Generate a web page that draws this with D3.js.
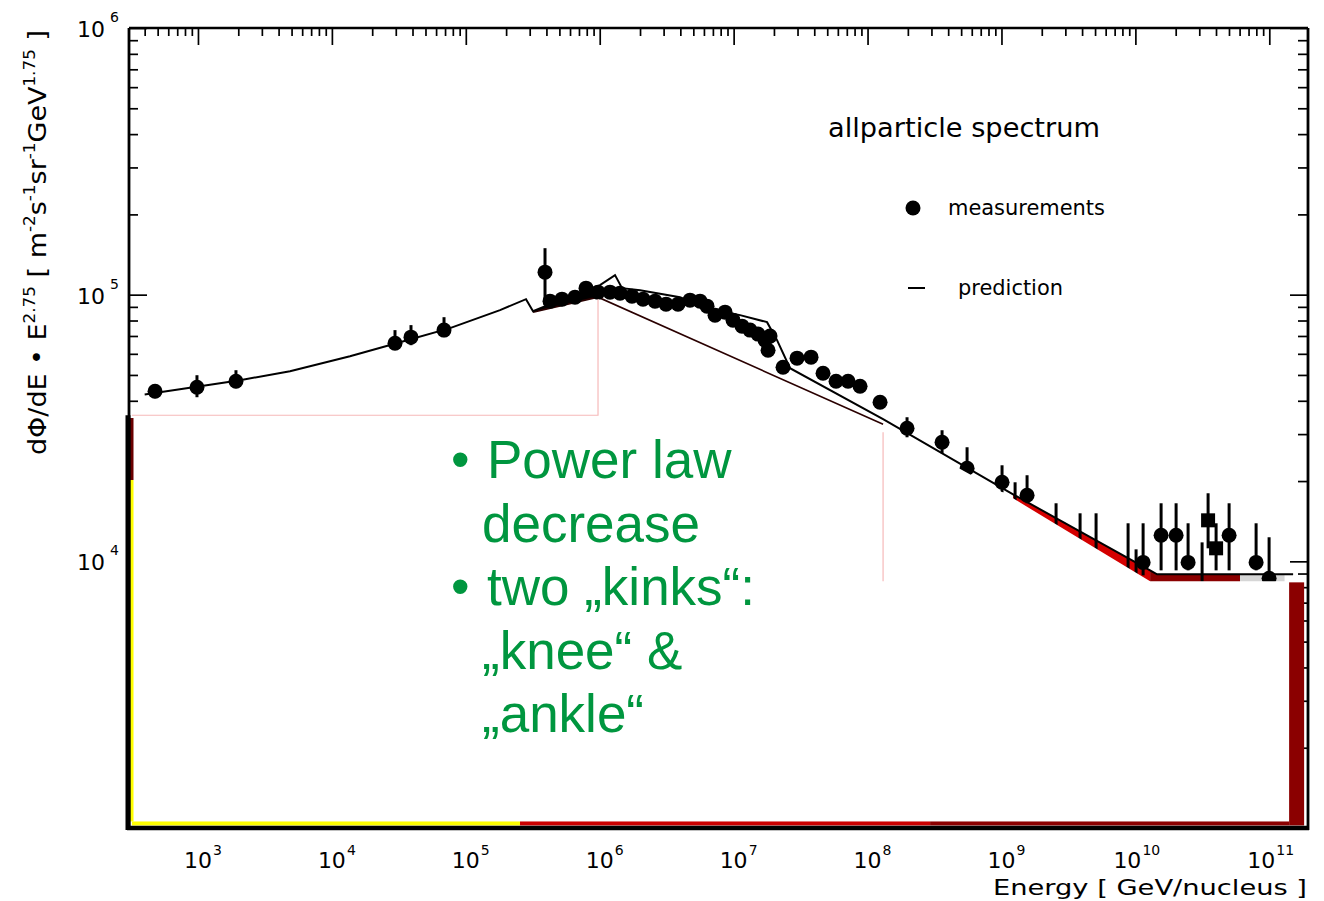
<!DOCTYPE html>
<html><head><meta charset="utf-8">
<script src="https://cdn.jsdelivr.net/npm/d3@7"></script>
<style>html,body{margin:0;padding:0;background:#fff;} svg{display:block;}</style>
</head><body>
<svg id="c" width="1324" height="901"></svg>
<script>
// ---------- DATA ----------
// measurements: energy [GeV/nucleus], flux*E^2.75, error bar top, error bar bottom
const measE = [478, 983, 1922, 29600, 38970, 68760, 390400,
  425500, 522800, 654000, 790300, 971200, 1.194e6, 1.418e6, 1.742e6, 2.106e6, 2.588e6,
  3.128e6, 3.844e6, 4.725e6, 5.612e6, 6.33e6, 7.263e6, 8.628e6, 9.897e6, 1.156e7, 1.326e7,
  1.521e7, 1.716e7, 1.87e7, 1.807e7, 2.338e7, 2.975e7, 3.785e7, 4.652e7, 5.818e7, 7.152e7,
  8.79e7, 1.24e8,
  1.972e8, 3.601e8, 5.536e8, 1.01e9, 1.553e9, 1.264e9, 2.557e9, 3.864e9, 5.087e9, 8.821e9,
  1.012e10, 1.142e10, 1.556e10, 2.014e10, 2.475e10, 3.149e10, 3.491e10, 4.006e10, 5.01e10,
  7.97e10, 9.965e10];
const measFlux = [43450, 44980, 47370, 65770, 69300, 73630, 121450,
  94540, 96190, 97860, 105780, 102190, 102190, 101300, 98720, 96190, 94540,
  92130, 92130, 95360, 94540, 90550, 83800, 85990, 80260, 76210, 73630,
  71130, 67530, 69910, 61910, 53460, 57790, 58290, 50760, 47370, 47370,
  45370, 39510,
  31560, 27950, 22340, 19790, 17690, 14880, 11990, 10810, 9660, 7920,
  7650, 9910, 12520, 12520, 9910, 7140, 14250, 11190, 12520,
  9910, 8640];
const measHi = [46150, 49880, 52090, 73630, 76880, 82330, 149400,
  94540, 96190, 97860, 105780, 102190, 102190, 101300, 98720, 96190, 94540,
  92130, 92130, 95360, 94540, 90550, 83800, 85990, 80260, 76210, 73630,
  71130, 67530, 69910, 61910, 53460, 57790, 58290, 50760, 47370, 47370,
  45370, 39510,
  34700, 31020, 26780, 22920, 21030, 19790, 16510, 15140, 15140, 13890,
  11090, 13890, 16510, 16510, 13890, 11780, 18000, 13890, 16510,
  13890, 12310];
const measLo = [40900, 41250, 44600, 62980, 64640, 69300, 91340,
  94540, 96190, 97860, 105780, 102190, 102190, 101300, 98720, 96190, 94540,
  92130, 92130, 95360, 94540, 90550, 83800, 85990, 80260, 76210, 73630,
  71130, 67530, 69910, 61910, 53460, 57790, 58290, 50760, 47370, 47370,
  45370, 39510,
  29190, 25430, 20670, 18150, 16510, 11480, 9250, 8490, 7455, 6550,
  6270, 8860, 9250, 9250, 9250, 5750, 11190, 9250, 9250,
  9250, 7140];
const squareMarkers = [3.491e10, 4.006e10]; // energies drawn as squares

// prediction curve
const predE = [400, 1035, 2059, 4866, 13650, 32260, 76210, 180100, 281600, 317700, 505200,
  712700, 1.005e6, 1.301e6, 1.468e6, 2.0e6, 3.978e6, 6.33e6, 1.116e7, 1.776e7, 2.109e7,
  2.637e7, 1.306e8, 1.221e9, 1.288e10, 1.452e10, 1.506e11];
const predFlux = [42200, 45370, 47780, 51640, 58790, 66330, 74880, 87480, 96190, 86730, 95360,
  101300, 108550, 118370, 105780, 103960, 97860, 88980, 83800, 78880, 67530,
  53000, 34110, 17840, 9250, 8940, 8940];

// broken power-law (knee) line
const kneeE = [317700, 971200, 1.306e8];
const kneeFlux = [85990, 97860, 32670];

// white overlay (slide text box) outline, in data coordinates
const maskE = [327, 971200, 971200, 1.306e8, 1.221e9, 1.288e10, 1.406e11, 1.406e11, 327];
const maskFlux = [35300, 35300, 96190, 32110, 17230, 8414, 8414, 1058, 1058];

// energy zones (colour bands)
const zoneEdges = [321, 2.54e5, 2.93e8, 1.406e11];
const zoneColors = ["#ffff00", "#cc0000", "#8b0000"];

// tick labels
const xTickExps = [3, 4, 5, 6, 7, 8, 9, 10, 11];
const yTickExps = [4, 5, 6];

const bullets = [
  {b: true, t: "Power law"},
  {b: false, t: "decrease"},
  {b: true, t: "two \u201Ekinks\u201C:"},
  {b: false, t: "\u201Eknee\u201C &"},
  {b: false, t: "\u201Eankle\u201C"}
];

// ---------- CHART ----------
const svg = d3.select("#c");
const x = d3.scaleLog().domain([Math.pow(10, 2.485), Math.pow(10, 11.289)]).range([129, 1308]);
const y = d3.scaleLog().domain([1e3, 1e6]).range([828, 28]);
const X0 = 129, X1 = 1308, Y0 = 28, Y1 = 828;
const FONT = "'DejaVu Sans', sans-serif";

svg.append("rect").attr("width", 1324).attr("height", 901).attr("fill", "#fff");

// tick values
const xMajor = xTickExps.map(e => Math.pow(10, e));
const xMinor = [];
for (let k = 2; k <= 11; k++) for (let m = 2; m <= 9; m++) {
  const v = m * Math.pow(10, k);
  if (v > x.domain()[0] && v < x.domain()[1]) xMinor.push(v);
}
const yMajor = [1e4, 1e5, 1e6];
const yMinor = [];
for (let k = 3; k <= 5; k++) for (let m = 2; m <= 9; m++) yMinor.push(m * Math.pow(10, k));

function styleAxis(g) {
  g.select(".domain").remove();
  g.selectAll("line").attr("stroke", "#000").attr("stroke-width", 1.7);
}
const ticks = svg.append("g");
ticks.append("g").attr("transform", `translate(0,${Y0})`)
  .call(d3.axisTop(x).tickValues(xMinor).tickSize(-8).tickFormat("")).call(styleAxis);
ticks.append("g").attr("transform", `translate(0,${Y0})`)
  .call(d3.axisTop(x).tickValues(xMajor).tickSize(-17).tickFormat("")).call(styleAxis);
ticks.append("g").attr("transform", `translate(${X0},0)`)
  .call(d3.axisLeft(y).tickValues(yMinor).tickSize(-9).tickFormat("")).call(styleAxis);
ticks.append("g").attr("transform", `translate(${X0},0)`)
  .call(d3.axisLeft(y).tickValues(yMajor).tickSize(-18).tickFormat("")).call(styleAxis);
ticks.append("g").attr("transform", `translate(${X1},0)`)
  .call(d3.axisRight(y).tickValues(yMinor).tickSize(-10).tickFormat("")).call(styleAxis);
ticks.append("g").attr("transform", `translate(${X1},0)`)
  .call(d3.axisRight(y).tickValues(yMajor).tickSize(-18).tickFormat("")).call(styleAxis);

const poly = pts => "M" + pts.map(p => x(p[0]) + "," + y(p[1])).join("L") + "Z";

// colour remnants of the filled spectrum
svg.append("path").attr("fill", "#000")
  .attr("d", poly([[predE[9], predFlux[9]], [predE[10], predFlux[10]], [predE[11], predFlux[11]],
                   [kneeE[1], 107600], [kneeE[1], kneeFlux[1]], [kneeE[0], kneeFlux[0]]]));
svg.append("path").attr("fill", "#d40000")
  .attr("d", poly([[predE[23], predFlux[23]], [predE[24], predFlux[24]], [predE[24], 8000], [predE[23], 16000]]));
svg.append("path").attr("fill", "#8b0000")
  .attr("d", poly([[predE[24], predFlux[24]], [predE[25], predFlux[25]], [6.052e10, predFlux[25]], [6.052e10, 8000], [predE[24], 8000]]));
svg.append("path").attr("fill", "#d6d6d6")
  .attr("d", poly([[6.052e10, predFlux[25]], [1.3e11, predFlux[25]], [1.3e11, 8000], [6.052e10, 8000]]));

// knee line
const line = d3.line().x(d => x(d[0])).y(d => y(d[1]));
svg.append("path").attr("fill", "none").attr("stroke", "#2a0000").attr("stroke-width", 1.6)
  .attr("d", line(kneeE.map((e, i) => [e, kneeFlux[i]])));
// prediction
svg.append("path").attr("fill", "none").attr("stroke", "#000").attr("stroke-width", 2)
  .attr("d", line(predE.map((e, i) => [e, predFlux[i]])));

// measurements
const meas = measE.map((e, i) => ({e, f: measFlux[i], hi: measHi[i], lo: measLo[i],
  sq: squareMarkers.includes(e)}));
const mg = svg.append("g");
mg.selectAll("line").data(meas.filter(d => d.hi !== d.lo)).join("line")
  .attr("x1", d => x(d.e)).attr("x2", d => x(d.e))
  .attr("y1", d => y(d.hi)).attr("y2", d => y(d.lo))
  .attr("stroke", "#000").attr("stroke-width", 3);
mg.selectAll("circle").data(meas.filter(d => !d.sq)).join("circle")
  .attr("cx", d => x(d.e)).attr("cy", d => y(d.f)).attr("r", 7.5).attr("fill", "#000");
mg.selectAll("rect").data(meas.filter(d => d.sq)).join("rect")
  .attr("x", d => x(d.e) - 7).attr("y", d => y(d.f) - 7).attr("width", 14).attr("height", 14).attr("fill", "#000");

// white overlay (text box)
svg.append("path").attr("fill", "#fff")
  .attr("d", poly(maskE.map((e, i) => [e, maskFlux[i]])));
const pink = svg.append("g").attr("stroke", "#f6b9b9").attr("stroke-width", 1.2).attr("fill", "none");
pink.append("path").attr("d", line([[zoneEdges[0], maskFlux[0]], [maskE[1], maskFlux[1]], [maskE[2], maskFlux[2]]]));
pink.append("path").attr("d", line([[maskE[3], 30500], [maskE[3], 8414]]));

// colour strips along the frame
const yStripTop = 1058, yStripBot = 1022;
zoneColors.forEach((c, i) => {
  svg.append("rect").attr("x", x(zoneEdges[i])).attr("width", x(zoneEdges[i + 1]) - x(zoneEdges[i]))
    .attr("y", y(yStripTop)).attr("height", y(yStripBot) - y(yStripTop)).attr("fill", c);
});
svg.append("rect").attr("x", x(1.406e11)).attr("width", x(1.82e11) - x(1.406e11))
  .attr("y", y(8340)).attr("height", y(yStripBot) - y(8340)).attr("fill", "#8b0000");
svg.append("rect").attr("x", X0).attr("width", 4.5).attr("y", y(34470))
  .attr("height", y(20180) - y(34470)).attr("fill", "#6a0000");
svg.append("rect").attr("x", X0).attr("width", 4.5).attr("y", y(20180))
  .attr("height", y(yStripTop) - y(20180)).attr("fill", "#ffff00");

// frame
const fr = svg.append("g").attr("stroke", "#000").attr("fill", "none");
fr.append("line").attr("x1", X0).attr("x2", X1).attr("y1", Y0).attr("y2", Y0).attr("stroke-width", 2.5);
fr.append("line").attr("x1", X1).attr("x2", X1).attr("y1", Y0).attr("y2", Y1 + 2).attr("stroke-width", 2.8);
fr.append("line").attr("x1", X0).attr("x2", X0).attr("y1", Y0).attr("y2", Y1 + 2).attr("stroke-width", 2.8);
fr.append("line").attr("x1", X0 - 1).attr("x2", X0 - 1).attr("y1", y(35300)).attr("y2", Y1 + 2).attr("stroke-width", 5);
fr.append("line").attr("x1", X0 - 2).attr("x2", X1 + 1).attr("y1", Y1).attr("y2", Y1).attr("stroke-width", 4.5);

// tick labels
const lab = svg.append("g").attr("font-family", FONT).attr("fill", "#000");
yTickExps.forEach(e => {
  const yy = y(Math.pow(10, e));
  lab.append("text").attr("x", 105).attr("y", yy + 9).attr("text-anchor", "end")
    .attr("font-size", 22).text("10");
  lab.append("text").attr("x", 110).attr("y", yy - 6).attr("font-size", 14).text(e);
});
xTickExps.forEach(e => {
  const xx = x(Math.pow(10, e)) - (e >= 10 ? 8 : 0);
  lab.append("text").attr("x", xx).attr("y", 868).attr("text-anchor", "middle")
    .attr("font-size", 22).text("10");
  lab.append("text").attr("x", xx + 15).attr("y", 855).attr("font-size", 14).text(e);
});

// axis titles
lab.append("text").attr("x", 993).attr("y", 895).attr("font-size", 22)
  .attr("textLength", 314).attr("lengthAdjust", "spacingAndGlyphs").text("Energy [ GeV/nucleus ]");
const yt = lab.append("text").attr("transform", "translate(46,455) rotate(-90)")
  .attr("font-size", 24).attr("textLength", 425).attr("lengthAdjust", "spacingAndGlyphs");
const ytParts = [["d\u03A6/dE \u2022 E", 0], ["2.75", 1], [" [ m", 0], ["-2", 1], ["s", 0], ["-1", 1],
  ["sr", 0], ["-1", 1], ["GeV", 0], ["1.75", 1], [" ]", 0]];
let prevSup = 0;
ytParts.forEach(([t, s]) => {
  const ts = yt.append("tspan").text(t).attr("font-size", s ? 15 : 24);
  if (s !== prevSup) ts.attr("dy", s ? -11 : 11);
  prevSup = s;
});

// title and legend
lab.append("text").attr("x", 828).attr("y", 137).attr("font-size", 26)
  .attr("textLength", 272).attr("lengthAdjust", "spacingAndGlyphs").text("allparticle spectrum");
lab.append("circle").attr("cx", 913).attr("cy", 208).attr("r", 7.5).attr("fill", "#000");
lab.append("text").attr("x", 948).attr("y", 215).attr("font-size", 22)
  .attr("textLength", 157).attr("lengthAdjust", "spacingAndGlyphs").text("measurements");
lab.append("line").attr("x1", 908).attr("x2", 925).attr("y1", 288).attr("y2", 288)
  .attr("stroke", "#000").attr("stroke-width", 2);
lab.append("text").attr("x", 958).attr("y", 295).attr("font-size", 22)
  .attr("textLength", 105).attr("lengthAdjust", "spacingAndGlyphs").text("prediction");

// green slide text
const gt = svg.append("g").attr("font-family", "'Liberation Sans', Arial, sans-serif")
  .attr("font-size", 53).attr("fill", "#00963f");
bullets.forEach((d, i) => {
  const by = 478 + i * 63.5;
  if (d.b) gt.append("text").attr("x", 451).attr("y", by).text("\u2022");
  gt.append("text").attr("x", d.b ? 487 : 482).attr("y", by).text(d.t);
});
</script></body></html>
